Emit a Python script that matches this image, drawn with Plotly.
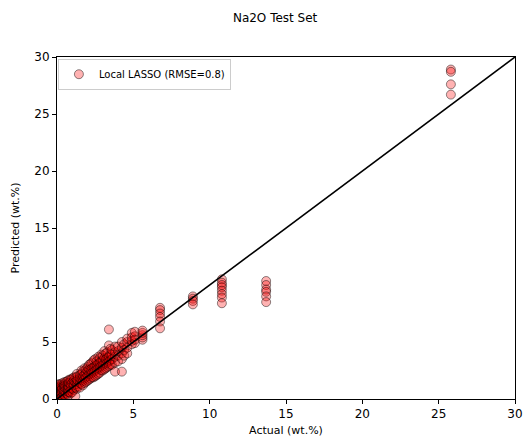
import plotly.graph_objects as go

# Actual values (columns) and predicted values for each
actual_groups = [0.05, 0.1, 0.15, 0.2, 0.3, 0.35, 0.45, 0.5, 0.6, 0.7, 0.75, 0.8, 0.9, 1.0, 1.1, 1.2,
                 1.3, 1.35, 1.5, 1.6, 1.7, 1.8, 1.9, 2.0, 2.1, 2.2, 2.3, 2.4, 2.5,
                 2.6, 2.7, 2.8, 2.9, 3.0, 3.1, 3.2, 3.3, 3.4, 3.5, 3.6, 3.8, 4.0, 4.25, 4.4, 4.6,
                 4.9, 5.1, 5.6, 6.75, 8.9, 10.8, 13.7, 25.8]
predicted_groups = [
    [0.1, 0.3, 0.5, 0.8, 1.0, 0.2],
    [0.0, 0.4, 0.7, 1.0, 1.3],
    [0.2, 0.6, 0.9, 1.2],
    [0.0, 0.4, 0.7, 1.1, 1.3],
    [0.1, 0.5, 0.8, 1.0],
    [0.2, 0.6, 0.9, 1.4],
    [0.4, 0.7, 1.1, 1.3],
    [0.3, 0.7, 1.0, 1.5, 1.2],
    [0.5, 0.9, 1.2, 1.5],
    [0.4, 0.8, 1.2, 1.6, 0.9],
    [0.3, 0.6, 1.1, 1.4],
    [0.6, 1.0, 1.4, 1.7],
    [0.5, 1.0, 1.3, 1.7],
    [0.6, 0.9, 1.4, 1.8],
    [0.8, 1.2, 1.6, 1.9],
    [0.25, 1.0, 1.5, 1.9],
    [0.9, 1.3, 1.7, 2.2],
    [1.1, 1.6, 2.0],
    [1.0, 1.4, 1.8, 2.1],
    [1.3, 1.7, 2.2, 2.5],
    [1.2, 1.6, 2.0, 2.4],
    [1.4, 1.8, 2.1, 2.7],
    [1.5, 1.9, 2.3, 2.6],
    [1.6, 2.0, 2.5, 2.8],
    [1.7, 2.2, 2.6, 3.0],
    [1.8, 2.2, 2.6, 3.1],
    [1.9, 2.3, 2.7, 3.2],
    [1.9, 2.4, 2.8, 3.4],
    [2.0, 2.5, 2.9, 3.5],
    [2.1, 2.6, 3.0, 3.3],
    [2.2, 2.7, 3.1, 3.7],
    [2.3, 2.8, 3.2, 3.6],
    [2.5, 2.9, 3.3, 3.9],
    [2.5, 3.0, 3.4, 3.8],
    [2.6, 3.1, 3.6, 4.2],
    [2.7, 3.1, 3.5, 4.0],
    [2.8, 3.2, 3.6, 4.1],
    [2.9, 3.3, 3.7, 4.7, 6.1],
    [3.0, 3.4, 3.9, 4.4],
    [3.0, 3.5, 3.9, 4.3],
    [2.4, 3.2, 3.7, 4.1, 4.6],
    [3.3, 3.8, 4.2, 4.6],
    [2.4, 3.5, 4.0, 4.5, 5.0],
    [3.8, 4.3, 4.8],
    [4.0, 4.5, 5.0, 5.3],
    [4.8, 5.1, 5.4, 5.8],
    [4.9, 5.2, 5.5, 5.9],
    [5.2, 5.4, 5.6, 5.8, 6.0],
    [8.0, 7.8, 7.5, 7.2, 6.8, 6.2],
    [9.0, 8.8, 8.6, 8.3],
    [10.5, 10.2, 10.0, 9.8, 9.5, 9.2, 8.9, 8.4],
    [10.35, 10.0, 9.6, 9.4, 9.0, 8.5],
    [28.9, 28.7, 27.6, 26.7],
]

line_x = [0, 30]
line_y = [0, 30]

xs, ys = [], []
for a, preds in zip(actual_groups, predicted_groups):
    for p in preds:
        xs.append(a)
        ys.append(p)

fig = go.Figure()
fig.add_trace(go.Scatter(
    x=xs, y=ys, mode="markers", name="Local LASSO (RMSE=0.8)",
    marker=dict(size=9, color="rgba(255,0,0,0.3)",
                line=dict(color="rgba(0,0,0,0.75)", width=0.6)),
))
fig.add_trace(go.Scatter(
    x=line_x, y=line_y, mode="lines", showlegend=False,
    line=dict(color="black", width=1.6),
))

axis_common = dict(
    range=[0, 30], showgrid=False, zeroline=False, showline=True, mirror=True,
    linecolor="black", linewidth=1, ticks="outside", ticklen=4, tickwidth=1,
    tickcolor="black", tickvals=[0, 5, 10, 15, 20, 25, 30], automargin=False,
    tickfont=dict(family="DejaVu Sans", size=12, color="black"),
)

fig.update_layout(
    width=523, height=437,
    margin=dict(l=57, r=8, t=57, b=38, autoexpand=False),
    plot_bgcolor="white", paper_bgcolor="white",
    title=dict(text="Na2O Test Set", x=0.526, xanchor="center", y=0.96, yanchor="middle",
               font=dict(family="DejaVu Sans", size=12, color="black")),
    xaxis=dict(axis_common, title=dict(text="Actual (wt.%)", standoff=7,
                                       font=dict(family="DejaVu Sans", size=11, color="black"))),
    yaxis=dict(axis_common, title=dict(text="Predicted (wt.%)", standoff=12,
                                       font=dict(family="DejaVu Sans", size=11, color="black"))),
    legend=dict(x=0.002, y=0.995, xanchor="left", yanchor="top",
                bgcolor="white", bordercolor="#cccccc", borderwidth=1,
                font=dict(family="DejaVu Sans", size=10, color="black")),
    showlegend=True,
)

fig.write_html(
    "out.html",
    config={"displayModeBar": False},
    post_script="document.body.style.margin='0';document.body.style.overflow='hidden';",
)
